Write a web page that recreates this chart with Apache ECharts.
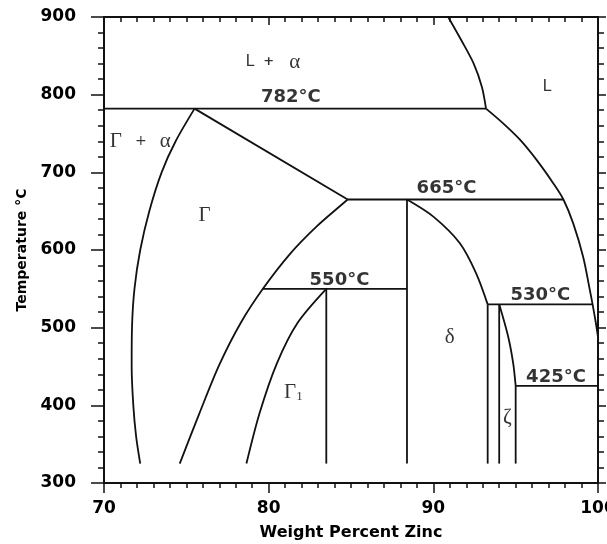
<!DOCTYPE html>
<html>
<head>
<meta charset="utf-8">
<script src="https://cdn.jsdelivr.net/npm/echarts@6/dist/echarts.min.js"></script>
<style>
html, body { margin: 0; background: #fff; }
#chart { width: 607px; height: 544px; }
</style>
</head>
<body>
<div id="chart"></div>
<script>
// phase boundaries, points are [weight % Zn, temperature °C]
var liquidusTop = [[90.9, 900], [91.7, 870], [92.45, 840], [92.95, 810], [93.2, 782]];
var liquidusLow = [[93.2, 782], [94.24, 763], [95.26, 742], [96.27, 716], [97.28, 686], [97.9, 665], [98.5, 634], [99.1, 591], [99.5, 549], [99.68, 529], [99.87, 506], [100, 488]];
var iso782 = [[70, 782], [93.2, 782]];
var iso665 = [[84.8, 665], [97.9, 665]];
var iso550 = [[79.65, 550], [88.4, 550]];
var iso530 = [[93.3, 530], [99.68, 530]];
var iso425 = [[95.0, 425], [100, 425]];
var alphaSolvus = [[72.2, 325], [71.95, 360], [71.78, 400], [71.68, 450], [71.7, 500], [71.85, 550], [72.2, 600], [72.75, 650], [73.5, 700], [74.35, 740], [75.5, 782]];
var gammaTop = [[75.5, 782], [84.8, 665]];
var gammaRight = [[74.6, 325], [75.8, 390], [77.0, 452], [78.3, 506], [79.65, 550], [81.3, 595], [82.9, 630], [84.3, 656], [84.8, 665]];
var gamma1Left = [[78.65, 325], [79.45, 390], [80.5, 454], [81.75, 506], [83.5, 550]];
var gamma1Right = [[83.5, 550], [83.5, 325]];
var deltaLeft = [[88.4, 665], [88.4, 325]];
var deltaRight = [[88.4, 665], [90.0, 643], [91.6, 609], [92.6, 570], [93.3, 530]];
var deltaEdge = [[93.3, 530], [93.3, 325]];
var zetaLeft = [[94.0, 530], [94.0, 325]];
var zetaRight = [[94.0, 530], [94.55, 488], [94.85, 454], [95.0, 425]];
var zetaEdge = [[95.0, 425], [95.0, 325]];

var boundaries = [liquidusTop, liquidusLow, iso782, iso665, iso550, iso530, iso425,
  alphaSolvus, gammaTop, gammaRight, gamma1Left, gamma1Right,
  deltaLeft, deltaRight, deltaEdge, zetaLeft, zetaRight, zetaEdge];
var curved = [liquidusTop, liquidusLow, alphaSolvus, gammaRight, gamma1Left, deltaRight, zetaRight];

// isotherm temperatures written above the lines
var isothermLabels = [
  [81.35, 797, '782°C'],
  [90.8, 680, '665°C'],
  [84.3, 561, '550°C'],
  [96.5, 541, '530°C'],
  [97.45, 436, '425°C']
];
// phase field names
var phaseLabels = [
  [80.25, 842, '{s|L}{p|+}{g|α}'],
  [96.9, 810, '{s|L}'],
  [72.2, 740, '{g|Γ}{q|+}{g|α}'],
  [76.1, 644, '{g|Γ}'],
  [91.0, 488, '{g|δ}'],
  [81.5, 417, '{g|Γ}{sub|1}'],
  [94.5, 384, '{g|ζ}']
];

var chart = echarts.init(document.getElementById('chart'));

var series = boundaries.map(function (pts) {
  return {
    type: 'line',
    data: pts,
    showSymbol: false,
    smooth: curved.indexOf(pts) >= 0 ? 0.3 : false,
    lineStyle: { color: '#111', width: 1.8 },
    silent: true
  };
});

series.push({
  type: 'scatter',
  symbolSize: 0,
  silent: true,
  data: isothermLabels.map(function (l) { return { value: [l[0], l[1]], name: l[2] }; }),
  label: {
    show: true,
    position: 'inside',
    formatter: '{b}',
    fontFamily: 'DejaVu Sans', fontWeight: 'bold', fontSize: 18, color: '#000'
  }
});

series.push({
  type: 'scatter',
  symbolSize: 0,
  silent: true,
  data: phaseLabels.map(function (l) { return { value: [l[0], l[1]], name: l[2] }; }),
  label: {
    show: true,
    position: 'inside',
    formatter: '{b}',
    fontFamily: 'Liberation Serif', fontSize: 21, color: '#000',
    rich: {
      s: { fontFamily: 'DejaVu Sans', fontSize: 16, color: '#000' },
      p: { fontFamily: 'DejaVu Sans', fontWeight: 'bold', fontSize: 13, color: '#000', padding: [0, 15, 0, 9] },
      q: { fontFamily: 'DejaVu Sans', fontSize: 14, color: '#000', padding: [0, 13, 0, 13] },
      g: { fontFamily: 'Liberation Serif', fontSize: 21, color: '#000' },
      sub: { fontFamily: 'Liberation Serif', fontSize: 13, color: '#000', padding: [8, 0, 0, 0] }
    }
  }
});

var axisLine = { lineStyle: { color: '#111', width: 2 } };
var tickLine = { color: '#111', width: 1.5 };
var tickText = { fontFamily: 'DejaVu Sans', fontWeight: 'bold', fontSize: 17, color: '#000' };

chart.setOption({
  animation: false,
  grid: { left: 104, right: 9, top: 17, bottom: 61, outerBoundsMode: 'none' },
  xAxis: [
    {
      type: 'value', position: 'bottom', min: 70, max: 100, interval: 10,
      name: 'Weight Percent Zinc', nameLocation: 'middle', nameGap: 42,
      nameTextStyle: { fontFamily: 'DejaVu Sans', fontWeight: 'bold', fontSize: 16, color: '#000' },
      axisLine: axisLine,
      axisTick: { length: 10, lineStyle: tickLine },
      minorTick: { show: true, splitNumber: 10, length: 5, lineStyle: tickLine },
      axisLabel: Object.assign({ margin: 17 }, tickText),
      splitLine: { show: false }
    },
    {
      type: 'value', position: 'top', min: 70, max: 100, interval: 10,
      axisLine: axisLine,
      axisTick: { inside: true, length: 8, lineStyle: tickLine },
      minorTick: { show: true, splitNumber: 10, length: 5, lineStyle: tickLine },
      axisLabel: { show: false },
      splitLine: { show: false }
    }
  ],
  yAxis: [
    {
      type: 'value', position: 'left', min: 300, max: 900, interval: 100,
      name: 'Temperature °C', nameLocation: 'middle', nameGap: 73,
      nameTextStyle: { fontFamily: 'DejaVu Sans', fontWeight: 'bold', fontSize: 14, color: '#000' },
      axisLine: axisLine,
      axisTick: { length: 13, lineStyle: tickLine },
      minorTick: { show: true, splitNumber: 5, length: 6, lineStyle: tickLine },
      axisLabel: Object.assign({ margin: 28 }, tickText),
      splitLine: { show: false }
    },
    {
      type: 'value', position: 'right', min: 300, max: 900, interval: 100,
      axisLine: axisLine,
      axisTick: { length: 8, lineStyle: tickLine },
      minorTick: { show: true, splitNumber: 5, length: 6, lineStyle: tickLine },
      axisLabel: { show: false },
      splitLine: { show: false }
    }
  ],
  series: series
});
</script>
</body>
</html>
